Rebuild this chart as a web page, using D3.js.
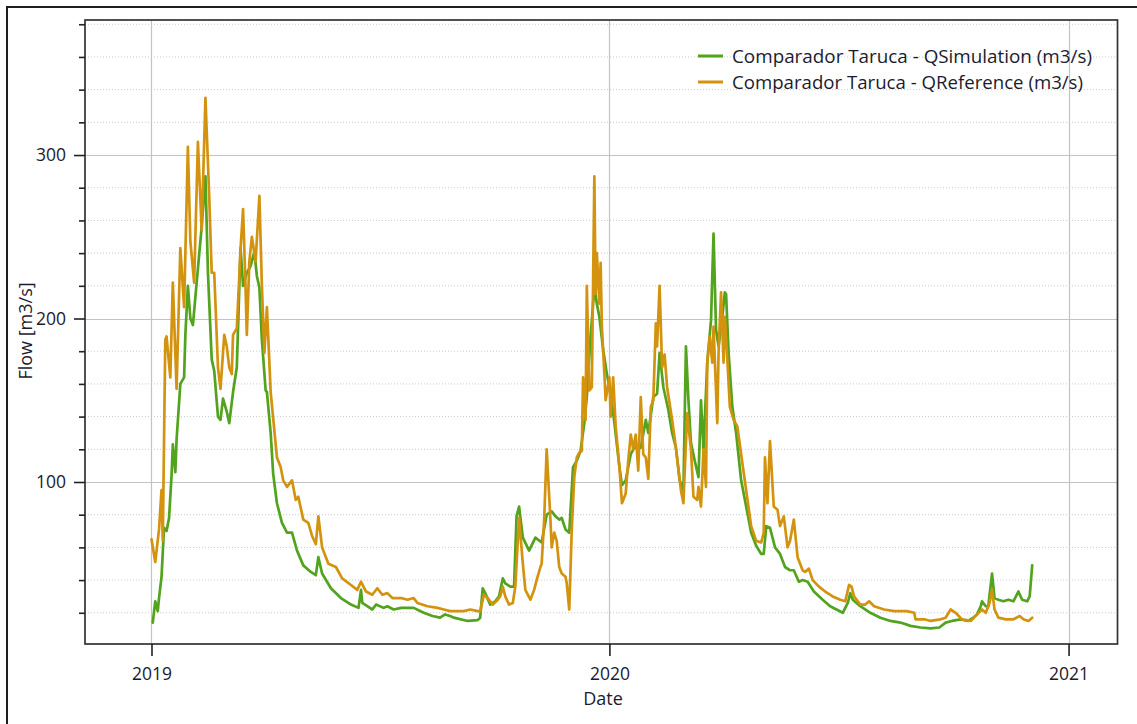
<!DOCTYPE html>
<html><head><meta charset="utf-8">
<script src="https://cdn.jsdelivr.net/npm/d3@7"></script>
<style>
html,body{margin:0;padding:0;background:#fff;}
svg{display:block;font-family:"Open Sans","Noto Sans",sans-serif;}
</style>
</head><body>
<svg id="chart" width="1137" height="724"></svg>
<script>
// ---- data (days counted from startDate) ----
const startDate = [2019, 0, 1];
const simDay = [
  1,3,5,6,8,10,12,14,16,17, 19,20,23,26,27,29,31,33,36,40,
  43,45,48,50,53,55,57,60,62,65, 68,71,73,76,79,82,84,86,88,91,
  92,95,97,100,104,108,112,116,121,127, 131,133,136,143,151,159,165,167,168,172,
  176,179,185,188,193,199,205,209,217,224, 230,234,238,241,252,260,262,264,266,270,
  274,277,280,282,286,289,291,293,296,301, 306,311,315,319,322,325,327,330,333,336,
  339,342,345,347,350,353,355,357,360,363, 366,369,373,375,378,382,385,390,394,396,
  400,403,405,408,412,415,418,421,424,426, 428,430,433,436,438,440,443,446,448,450,
  452,455,457,458,460,463,466,470,474,478, 482,486,488,490,493,497,501,505,509,512,
  516,519,523,528,535,541,551,553,555,557, 559,565,573,581,589,597,605,613,621,628,
  633,638,645,651,655,658,661,662,665,667, 670,672,675,679,683,687,691,694,698,700,
  702
];
const simFlow = [
  14,27,21,29,42,72,70,78,104,123, 106,126,160,164,190,220,200,196,222,256,
  287,228,175,168,140,138,151,143,136,155, 170,243,220,228,232,241,226,219,187,156,
  155,130,105,87,75,69,69,58,49,45, 43,54,44,35,29,25,23,34,26,24,
  22,25,23,24,22,23,23,23,20,18, 17,19,18,17,15,15.5,17,35,32,25,
  27,30,41,38,36,36,79,85,66,58, 66,63,80,82,79,77,78,71,69,109,
  113,119,136,152,189,219,209,201,181,166, 154,136,109,98,101,117,121,121,138,130,
  152,154,179,158,144,130,121,101,95,183, 150,124,113,103,150,120,173,199,252,193,
  183,201,216,215,179,146,130,101,85,69, 61,56,56,73,72,60,56,48,46,46,
  39,40,39,33,28,24,20,23,26,32, 28,24,20,17,15,14,12,11,10.5,11,
  14,15,16,15,17,19,24,27,24,24, 44,29,28,27,28,27,33,28,27,30,
  49
];
const refDay = [
  0,3,6,8,9,11,12,15,17,20, 23,26,29,31,34,37,40,43,46,48,
  50,53,55,58,60,62,64,65,68,70, 71,73,75,76,78,80,83,86,88,90,
  92,95,100,103,105,108,112,115,117,121, 125,128,131,133,136,141,147,152,159,164,
  167,171,176,180,184,188,192,199,204,209, 212,220,228,233,238,241,249,254,260,262,
  265,268,272,276,278,280,282,285,288,290, 293,296,298,302,305,307,310,311,313,315,
  318,319,321,323,325,327,330,331,333,335, 337,339,341,343,344,346,347,349,351,353,
  354,355,357,358,359,361,362,365,366,368, 370,373,375,378,380,382,384,386,388,390,
  392,394,396,398,400,402,403,405,407,409, 411,415,418,422,424,426,427,430,432,435,
  436,438,440,442,443,445,447,448,451,452, 454,456,457,459,461,464,467,470,474,478,
  482,486,488,489,491,493,496,499,501,504, 507,509,512,515,519,521,524,527,532,537,
  543,549,553,556,558,560,565,569,572,576, 584,592,597,602,608,609,616,621,629,633,
  637,641,646,653,658,662,665,668,670,672, 675,681,687,692,695,699,702
];
const refFlow = [
  65,51,71,95,64,187,189,164,222,157, 243,207,305,247,222,308,254,335,275,228,
  228,170,157,190,183,170,166,190,194,226, 243,267,218,190,235,250,235,275,220,179,
  207,155,115,109,101,97,101,89,91,77, 75,67,62,79,60,50,48,41,37,34,
  39,33,31,35,31,32,29,29,28,29, 26,24,23,22,21,21,21,22,21,21,
  31,29,25,28,30,36,30,25,26,36, 78,50,34,28,34,40,48,50,77,120,
  77,60,69,64,48,44,42,38,22,71, 103,115,118,119,164,138,220,156,158,287,
  215,240,209,234,195,166,150,164,140,164, 134,109,87,93,113,129,120,129,107,152,
  117,115,102,146,150,197,183,220,170,178, 158,138,121,95,87,124,142,120,91,89,
  97,85,120,97,173,189,173,195,136,179, 216,173,201,175,146,138,134,117,95,73,
  64,63,69,115,87,125,85,83,73,79, 60,64,77,54,46,45,47,40,36,33,
  30,28,27,37,36,30,25,25,27,24, 22,21,21,21,20,16,16,15,16,17,
  22,20,16,15,19,22,20,26,34,22, 17,16,16,18,16,15,17
];
const yearTicks = ["2019", "2020", "2021"];
const yMajorTicks = [100, 200, 300];
const seriesNames = ["Comparador Taruca - QSimulation (m3/s)", "Comparador Taruca - QReference (m3/s)"];
const seriesColors = ["#52a31d", "#d3930f"];
const xTitle = "Date";
const yTitle = "Flow [m3/s]";

// ---- layout ----
const L = 85, R = 1117.5, T = 20, B = 644;
const FONT = "'Open Sans','Noto Sans',sans-serif";
const TXT = "#1b1b2e";
const svg = d3.select("#chart");
const dayDate = d => new Date(Date.UTC(startDate[0], startDate[1], startDate[2] + d));

const x = d3.scaleUtc()
  .domain([new Date(Date.UTC(2018, 10, 9)), new Date(Date.UTC(2021, 1, 9))])
  .range([L, R]);
const y = d3.scaleLinear().domain([0.9, 382.6]).range([B, T]);

// outer frame
svg.append("rect").attr("x", 7).attr("y", 7).attr("width", 1200).attr("height", 800)
  .attr("fill", "#fff").attr("stroke", "#1e1e1e").attr("stroke-width", 2);

// minor grid
const minorVals = d3.range(20, 381, 20).filter(v => !yMajorTicks.includes(v));
svg.append("g").selectAll("line").data(minorVals).join("line")
  .attr("x1", L).attr("x2", R).attr("y1", d => y(d)).attr("y2", d => y(d))
  .attr("stroke", "#c9c9c9").attr("stroke-width", 1).attr("stroke-dasharray", "1,2");
// major grid
svg.append("g").selectAll("line").data(yMajorTicks).join("line")
  .attr("x1", L).attr("x2", R).attr("y1", d => Math.round(y(d)) + 0.5).attr("y2", d => Math.round(y(d)) + 0.5)
  .attr("stroke", "#c3c3c3").attr("stroke-width", 1.2);
const yearDates = yearTicks.map(s => new Date(Date.UTC(+s, 0, 1)));
svg.append("g").selectAll("line").data(yearDates).join("line")
  .attr("x1", d => Math.round(x(d)) + 0.5).attr("x2", d => Math.round(x(d)) + 0.5)
  .attr("y1", T).attr("y2", B)
  .attr("stroke", "#c3c3c3").attr("stroke-width", 1.2);

// series
svg.append("clipPath").attr("id", "clip").append("rect")
  .attr("x", L).attr("y", T).attr("width", R - L).attr("height", B - T);
const line = d3.line().x(d => x(d[0])).y(d => y(d[1]));
const simData = simDay.map((d, i) => [dayDate(d), simFlow[i]]);
const refData = refDay.map((d, i) => [dayDate(d), refFlow[i]]);
const gLines = svg.append("g").attr("clip-path", "url(#clip)");
[simData, refData].forEach((data, i) => {
  gLines.append("path").datum(data).attr("d", line)
    .attr("fill", "none").attr("stroke", seriesColors[i]).attr("stroke-width", 2.7)
    .attr("stroke-linejoin", "round").attr("stroke-linecap", "round");
});

// plot frame
svg.append("rect").attr("x", L).attr("y", T).attr("width", R - L).attr("height", B - T)
  .attr("fill", "none").attr("stroke", "#333").attr("stroke-width", 1.7);

// y axis ticks
const yMinorAxis = d3.axisLeft(y).tickValues(minorVals).tickSize(6).tickFormat("");
const yMajorAxis = d3.axisLeft(y).tickValues(yMajorTicks).tickSize(11).tickPadding(8);
[yMinorAxis, yMajorAxis].forEach(ax => {
  const g = svg.append("g").attr("transform", `translate(${L},0)`).call(ax);
  g.select(".domain").remove();
  g.selectAll(".tick line").attr("stroke", "#222").attr("stroke-width", 1.6);
  g.selectAll("text").attr("fill", TXT).attr("font-size", 17.5).attr("font-family", FONT);
});

// x axis ticks
const xAxis = d3.axisBottom(x).tickValues(yearDates).tickSize(12).tickPadding(12)
  .tickFormat(d3.utcFormat("%Y"));
const gx = svg.append("g").attr("transform", `translate(0,${B})`).call(xAxis);
gx.select(".domain").remove();
gx.selectAll(".tick line").attr("stroke", "#222").attr("stroke-width", 1.6);
gx.selectAll("text").attr("fill", TXT).attr("font-size", 17.5).attr("font-family", FONT);

// axis titles
svg.append("text").attr("x", 603).attr("y", 705).attr("text-anchor", "middle")
  .attr("font-size", 18).attr("fill", TXT).attr("font-family", FONT).text(xTitle);
svg.append("text").attr("transform", "translate(31.5,331) rotate(-90)").attr("text-anchor", "middle")
  .attr("font-size", 18).attr("fill", TXT).attr("font-family", FONT).text(yTitle);

// legend
const legendWidths = [360, 351];
const leg = svg.append("g");
seriesNames.forEach((name, i) => {
  const cy = 56 + i * 26;
  leg.append("line").attr("x1", 698).attr("x2", 723).attr("y1", cy).attr("y2", cy)
    .attr("stroke", seriesColors[i]).attr("stroke-width", 3);
  leg.append("text").attr("x", 732).attr("y", cy + 6.5).attr("font-size", 18.5)
    .attr("font-family", FONT).attr("fill", TXT)
    .attr("textLength", legendWidths[i]).attr("lengthAdjust", "spacingAndGlyphs")
    .text(name);
});
</script>
</body></html>
